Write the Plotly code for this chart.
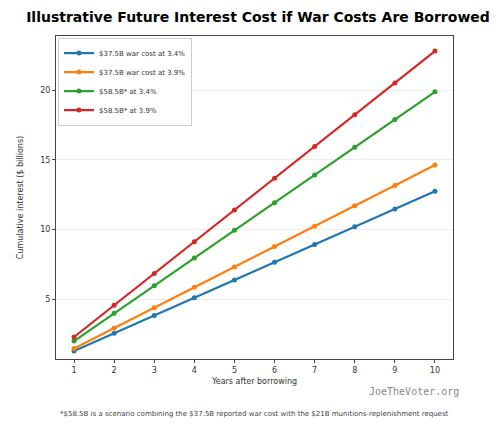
import plotly.graph_objects as go

years = [1,2,3,4,5,6,7,8,9,10]
s1 = [1.28,2.55,3.83,5.10,6.38,7.65,8.93,10.20,11.48,12.75]
s2 = [1.46,2.93,4.39,5.85,7.31,8.78,10.24,11.70,13.16,14.63]
s3 = [1.99,3.98,5.97,7.96,9.95,11.93,13.92,15.91,17.90,19.89]
s4 = [2.28,4.56,6.84,9.13,11.41,13.69,15.97,18.25,20.53,22.82]
names = ["$37.5B war cost at 3.4%","$37.5B war cost at 3.9%","$58.5B* at 3.4%","$58.5B* at 3.9%"]
colors = ["#1f77b4","#ff7f0e","#2ca02c","#d62728"]

fig = go.Figure()
for ys,n,c in zip([s1,s2,s3,s4],names,colors):
    fig.add_trace(go.Scatter(x=years,y=ys,name=n,mode="lines+markers",
        line=dict(color=c,width=2.2),marker=dict(size=5,color=c)))

fig.update_layout(
    width=500,height=427,plot_bgcolor="white",paper_bgcolor="white",
    margin=dict(l=45,r=55,t=28,b=76),
    font=dict(family="DejaVu Sans",size=8,color="#333"),
    title=dict(text="<b>Illustrative Future Interest Cost if War Costs Are Borrowed</b>",
               x=0.5,xanchor="center",y=0.99,yanchor="top",font=dict(size=14,color="black")),
    legend=dict(x=0.005,y=0.995,xanchor="left",yanchor="top",bordercolor="#ccc",borderwidth=1,
                bgcolor="rgba(255,255,255,0.9)",font=dict(size=7),tracegroupgap=0,itemwidth=30),
    xaxis=dict(title=dict(text="Years after borrowing",font=dict(size=8),standoff=4),tickvals=years,range=[0.55,10.45],
               showgrid=False,showline=True,linecolor="#444",mirror=True,ticks="outside",ticklen=3),
    yaxis=dict(title=dict(text="Cumulative interest ($ billions)",font=dict(size=8)),tickvals=[5,10,15,20],
               range=[0.7,23.9],showgrid=True,gridcolor="#eee",showline=True,linecolor="#444",
               mirror=True,ticks="outside",ticklen=3,zeroline=False),
)
fig.add_annotation(text="JoeTheVoter.org",xref="paper",yref="paper",x=1.02,y=-0.125,xanchor="right",
                   showarrow=False,font=dict(family="DejaVu Sans Mono",size=10,color="#888"))
fig.add_annotation(text="*$58.5B is a scenario combining the $37.5B reported war cost with the $21B munitions-replenishment request",
                   xref="paper",yref="paper",x=0.5,y=-0.19,xanchor="center",showarrow=False,font=dict(size=7,color="#444"))
fig.write_html("out.html")
